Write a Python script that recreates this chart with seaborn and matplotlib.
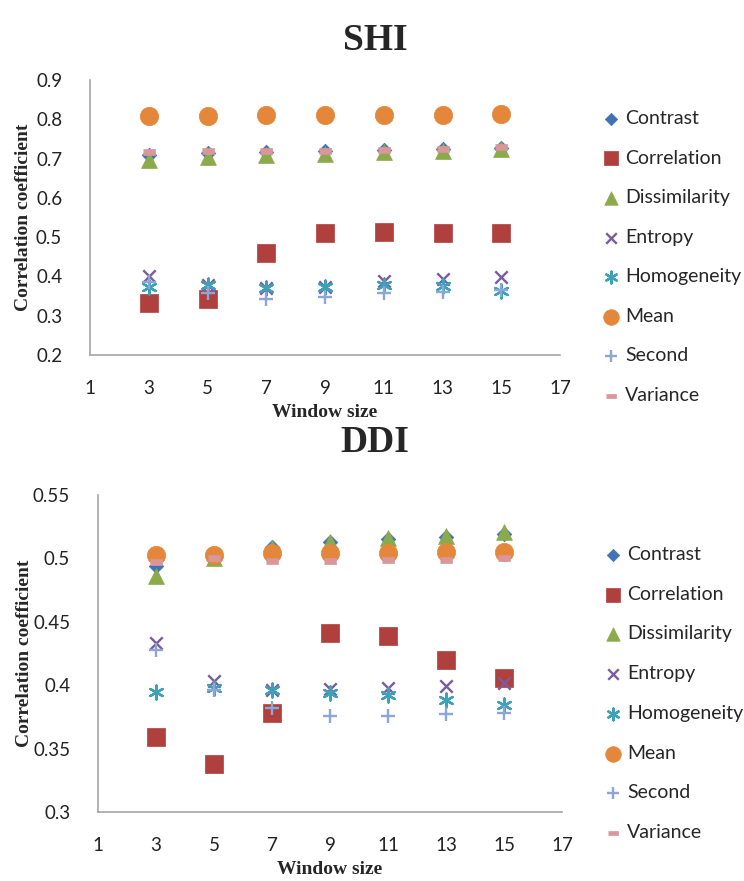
import matplotlib
matplotlib.use("Agg")
import matplotlib.pyplot as plt
import numpy as np
import pandas as pd
import seaborn as sns
from matplotlib.ticker import FixedLocator, FixedFormatter

# ---------------- data ----------------
window = [3, 5, 7, 9, 11, 13, 15]
series_names = ["Contrast", "Correlation", "Dissimilarity", "Entropy",
                "Homogeneity", "Mean", "Second", "Variance"]

shi_contrast = [0.710, 0.714, 0.717, 0.719, 0.721, 0.724, 0.727]
shi_correlation = [0.332, 0.343, 0.459, 0.510, 0.512, 0.510, 0.510]
shi_dissimilarity = [0.697, 0.704, 0.709, 0.712, 0.716, 0.719, 0.725]
shi_entropy = [0.402, 0.377, 0.370, 0.373, 0.389, 0.394, 0.398]
shi_homogeneity = [0.373, 0.377, 0.370, 0.373, 0.377, 0.376, 0.364]
shi_mean = [0.808, 0.808, 0.810, 0.810, 0.812, 0.812, 0.813]
shi_second = [0.385, 0.357, 0.343, 0.347, 0.357, 0.360, 0.366]
shi_variance = [0.718, 0.720, 0.720, 0.720, 0.722, 0.725, 0.730]

ddi_contrast = [0.494, 0.502, 0.509, 0.513, 0.515, 0.517, 0.519]
ddi_correlation = [0.359, 0.338, 0.378, 0.441, 0.439, 0.420, 0.406]
ddi_dissimilarity = [0.486, 0.500, 0.508, 0.513, 0.516, 0.518, 0.521]
ddi_entropy = [0.433, 0.403, 0.396, 0.397, 0.398, 0.399, 0.402]
ddi_homogeneity = [0.395, 0.398, 0.396, 0.394, 0.392, 0.388, 0.384]
ddi_mean = [0.503, 0.503, 0.504, 0.504, 0.504, 0.505, 0.505]
ddi_second = [0.428, 0.396, 0.382, 0.376, 0.376, 0.377, 0.378]
ddi_variance = [0.497, 0.500, 0.498, 0.498, 0.499, 0.499, 0.500]

x_ticks = [1, 3, 5, 7, 9, 11, 13, 15, 17]
shi_yticks = [0.2, 0.3, 0.4, 0.5, 0.6, 0.7, 0.8, 0.9]
shi_ylabels = ["0.2", "0.3", "0.4", "0.5", "0.6", "0.7", "0.8", "0.9"]
ddi_yticks = [0.3, 0.35, 0.4, 0.45, 0.5, 0.55]
ddi_ylabels = ["0.3", "0.35", "0.4", "0.45", "0.5", "0.55"]

shi_values = [shi_contrast, shi_correlation, shi_dissimilarity, shi_entropy,
              shi_homogeneity, shi_mean, shi_second, shi_variance]
ddi_values = [ddi_contrast, ddi_correlation, ddi_dissimilarity, ddi_entropy,
              ddi_homogeneity, ddi_mean, ddi_second, ddi_variance]


def long_frame(values):
    rows = []
    for name, vals in zip(series_names, values):
        for w, v in zip(window, vals):
            rows.append({"Window size": w, "value": v, "series": name})
    return pd.DataFrame(rows)


shi_df = long_frame(shi_values)
ddi_df = long_frame(ddi_values)

# ---------------- styles ----------------
colors = {
    "Contrast": "#4072B4",
    "Correlation": "#B0403E",
    "Dissimilarity": "#8AAA4C",
    "Entropy": "#7A5C9E",
    "Homogeneity": "#3DA1B7",
    "Mean": "#E5873A",
    "Second": "#8CA6D8",
    "Variance": "#DA979B",
}
rect = [(-1, -0.45), (1, -0.45), (1, 0.45), (-1, 0.45)]
markers = {
    "Contrast": "D",
    "Correlation": "s",
    "Dissimilarity": "^",
    "Entropy": "x",
    "Homogeneity": (6, 2, 0),
    "Mean": "o",
    "Second": "+",
    "Variance": rect,
}
sizes = {
    "Contrast": 55,
    "Correlation": 160,
    "Dissimilarity": 130,
    "Entropy": 80,
    "Homogeneity": 100,
    "Mean": 175,
    "Second": 90,
    "Variance": 70,
}
line_art = {"Entropy", "Homogeneity", "Second"}

sns.set_theme(style="white")
plt.rcParams["font.family"] = ["Lato", "DejaVu Sans"]

fig = plt.figure(figsize=(7.44, 8.81), dpi=100)
W, H = 744.0, 881.0


def px_axes(left, top, right, bottom):
    return fig.add_axes([left / W, 1 - bottom / H, (right - left) / W, (bottom - top) / H])


ax1 = px_axes(90, 80, 560, 355)
ax2 = px_axes(98, 495, 562, 812)

serif_bold = dict(family=["Liberation Serif", "DejaVu Serif"], weight="bold")


def draw(ax, df, yticks, ylabels, ylim, legend_top, legend_left, spacing, ylab_x):
    for name in series_names:
        sub = df[df["series"] == name]
        kw = dict(data=sub, x="Window size", y="value", ax=ax,
                  marker=markers[name], s=sizes[name], label=name)
        if name in line_art:
            kw.update(color=colors[name], linewidth=1.7)
        else:
            kw.update(color=colors[name], edgecolor=colors[name], linewidth=0.5)
        sns.scatterplot(**kw)
    ax.set_xlim(1, 17)
    ax.set_ylim(*ylim)
    ax.xaxis.set_major_locator(FixedLocator(x_ticks))
    ax.yaxis.set_major_locator(FixedLocator(yticks))
    ax.yaxis.set_major_formatter(FixedFormatter(ylabels))
    ax.tick_params(axis="both", length=0, labelsize=13.5, colors="#222222")
    ax.tick_params(axis="y", pad=20)
    ax.tick_params(axis="x", pad=18)
    for side in ["top", "right"]:
        ax.spines[side].set_visible(False)
    for side in ["left", "bottom"]:
        ax.spines[side].set_color("#A6A6A6")
        ax.spines[side].set_linewidth(1.2)
    ax.grid(False)
    ax.set_xlabel("Window size", fontsize=14, labelpad=5, **serif_bold)
    ax.set_ylabel("Correlation coefficient", fontsize=14, **serif_bold)
    ax.yaxis.set_label_coords(ylab_x, 0.5)
    ax.legend(loc="upper left", bbox_to_anchor=(legend_left / W, 1 - legend_top / H),
              bbox_transform=fig.transFigure, frameon=False, fontsize=14,
              handletextpad=0.25, handlelength=1.0, labelspacing=spacing,
              borderpad=0, borderaxespad=0, markerscale=0.85)


draw(ax1, shi_df, shi_yticks, shi_ylabels, (0.2, 0.9), 110, 601, 1.16, -0.124)
draw(ax2, ddi_df, ddi_yticks, ddi_ylabels, (0.3, 0.55), 546, 603, 1.17, -0.141)

fig.text(375 / W, 1 - 40 / H, "SHI", ha="center", va="center", fontsize=27, **serif_bold)
fig.text(375 / W, 1 - 442 / H, "DDI", ha="center", va="center", fontsize=27, **serif_bold)

fig.savefig("out.png", dpi=100, facecolor="white")
